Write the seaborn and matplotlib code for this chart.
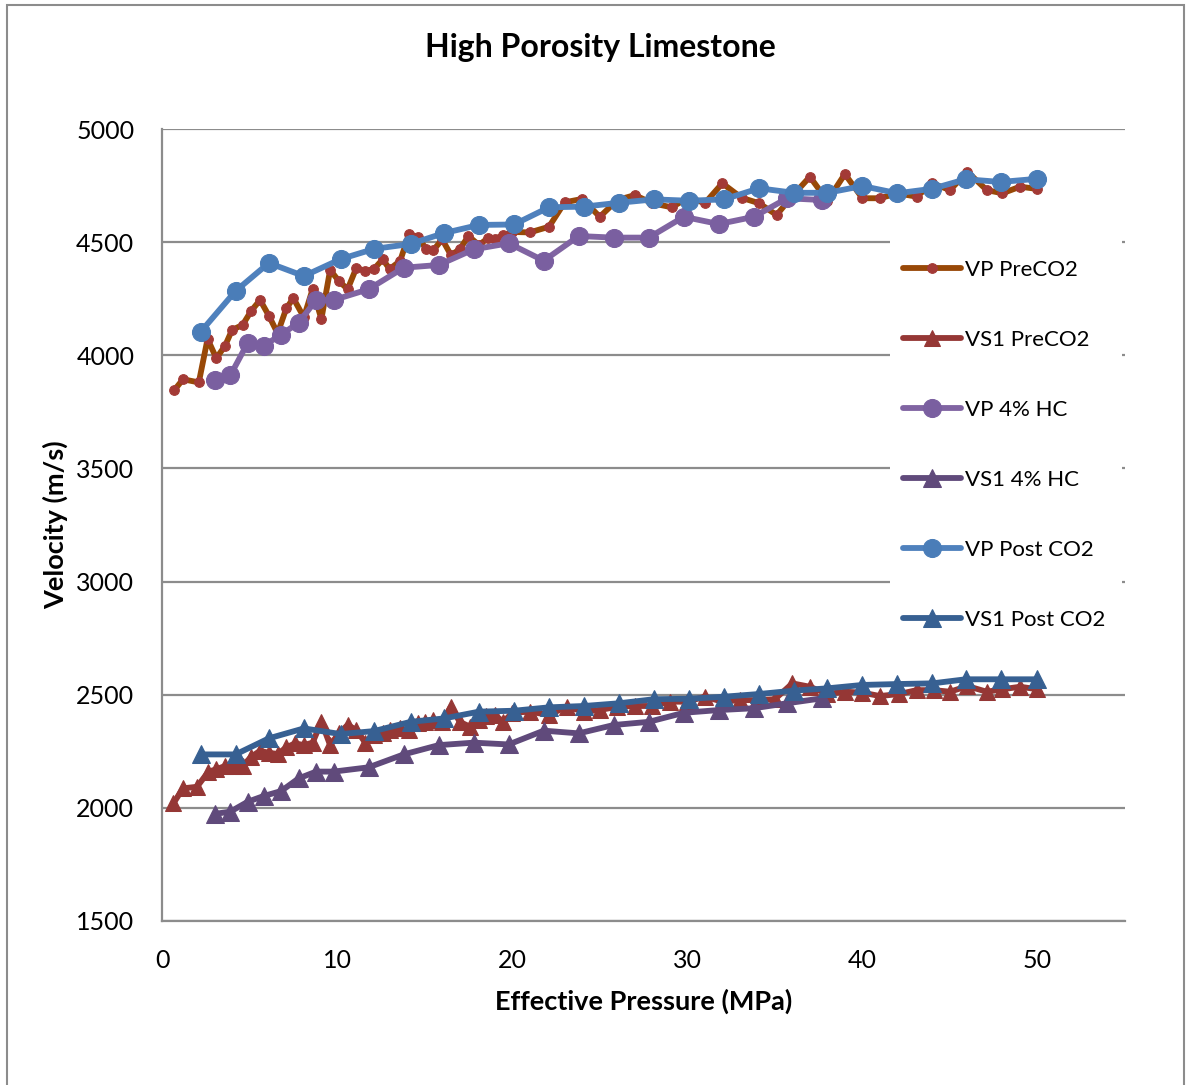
import matplotlib
matplotlib.use("Agg")
import matplotlib.pyplot as plt
from matplotlib.patches import Rectangle
import seaborn as sns

sns.set_theme(style="white")
plt.rcParams["font.family"] = ["Lato", "DejaVu Sans"]
plt.rcParams["text.color"] = "black"

# ---- data -------------------------------------------------------------
x_vp_pre = [0.7, 1.2, 2.1, 2.6, 3.1, 3.6, 4.0, 4.6, 5.1, 5.6, 6.1, 6.6, 7.1, 7.5, 8.1,
            8.6, 9.1, 9.6, 10.1, 10.6, 11.1, 11.6, 12.1, 12.6, 13.0, 13.6, 14.1, 14.6,
            15.1, 15.5, 16.0, 16.5, 17.0, 17.5, 18.1, 18.6, 19.0, 19.5, 20.0, 21.0,
            22.1, 23.0, 24.0, 25.0, 26.0, 27.0, 28.0, 29.1, 30.1, 31.0, 32.0, 33.1,
            34.1, 35.1, 36.0, 37.0, 38.0, 39.0, 40.0, 41.0, 42.0, 43.1, 44.0, 45.0,
            46.0, 47.1, 48.0, 49.0, 50.0]
vp_pre = [3846, 3894, 3880, 4072, 3987, 4042, 4112, 4134, 4197, 4244, 4175, 4097, 4208,
          4252, 4168, 4292, 4160, 4377, 4328, 4292, 4387, 4372, 4381, 4424, 4381, 4417,
          4535, 4524, 4468, 4465, 4512, 4443, 4468, 4527, 4487, 4517, 4514, 4531, 4545,
          4543, 4568, 4676, 4691, 4612, 4686, 4708, 4672, 4654, 4698, 4672, 4760, 4696,
          4672, 4620, 4704, 4789, 4683, 4801, 4694, 4694, 4716, 4701, 4760, 4730, 4811,
          4730, 4716, 4745, 4735]

x_vs_pre = [0.65, 1.2, 2.0, 2.65, 3.1, 3.6, 4.1, 4.6, 5.1, 5.6, 6.1, 6.6, 7.1, 7.6, 8.1,
            8.6, 9.1, 9.6, 10.1, 10.6, 11.1, 11.6, 12.1, 12.6, 13.0, 13.6, 14.1, 14.6,
            15.0, 15.5, 16.0, 16.5, 17.0, 17.6, 18.1, 18.5, 19.0, 19.5, 20.0, 21.0,
            22.1, 23.1, 24.1, 25.0, 26.0, 27.0, 28.0, 29.0, 30.0, 31.0, 32.0, 33.0,
            34.0, 35.0, 36.0, 37.0, 38.0, 39.0, 40.0, 41.0, 42.1, 43.1, 44.1, 45.0,
            46.0, 47.1, 48.0, 49.0, 50.0]
vs_pre = [2020, 2086, 2093, 2160, 2170, 2185, 2185, 2185, 2226, 2252, 2243, 2238, 2267,
          2285, 2277, 2288, 2380, 2277, 2329, 2366, 2344, 2288, 2322, 2329, 2344, 2351,
          2344, 2373, 2380, 2388, 2380, 2447, 2380, 2358, 2388, 2406, 2410, 2380, 2420,
          2425, 2410, 2447, 2425, 2432, 2447, 2450, 2450, 2469, 2469, 2491, 2469, 2476,
          2476, 2480, 2550, 2535, 2503, 2513, 2509, 2494, 2503, 2520, 2520, 2513, 2538,
          2513, 2524, 2535, 2524]

x_hc = [3.0, 3.9, 4.9, 5.8, 6.8, 7.8, 8.8, 9.8, 11.8, 13.8, 15.8, 17.8, 19.8, 21.8,
        23.8, 25.8, 27.8, 29.8, 31.8, 33.8, 35.7, 37.7]
vp_hc = [3891, 3911, 4056, 4042, 4091, 4144, 4244, 4244, 4292, 4387, 4399, 4468, 4495,
         4418, 4527, 4520, 4520, 4612, 4580, 4612, 4694, 4686]
vs_hc = [1973, 1983, 2027, 2052, 2074, 2130, 2160, 2160, 2179, 2236, 2277, 2288, 2280,
         2341, 2329, 2366, 2380, 2420, 2432, 2440, 2462, 2484]

x_post = [2.2, 4.2, 6.1, 8.1, 10.2, 12.1, 14.2, 16.1, 18.1, 20.1, 22.1, 24.1, 26.1,
          28.1, 30.1, 32.1, 34.1, 36.1, 38.0, 40.0, 42.0, 44.0, 45.9, 47.9, 50.0]
vp_post = [4103, 4284, 4408, 4350, 4425, 4470, 4492, 4540, 4576, 4578, 4654, 4657, 4674,
           4689, 4683, 4689, 4738, 4718, 4718, 4748, 4716, 4736, 4778, 4766, 4780]
vs_post = [2236, 2236, 2307, 2351, 2326, 2339, 2380, 2395, 2425, 2429, 2444, 2450, 2462,
           2480, 2482, 2491, 2503, 2518, 2528, 2543, 2547, 2550, 2568, 2568, 2568]

fig = plt.figure(figsize=(11.88, 10.85), dpi=100)
ax = fig.add_axes([0.1364, 0.1512, 0.8106, 0.7299])

series = [
    (x_vp_pre, vp_pre, "VP PreCO2", "#984807", "o", 7, "#A33A36"),
    (x_vs_pre, vs_pre, "VS1 PreCO2", "#953735", "^", 12, "#953735"),
    (x_hc, vp_hc, "VP 4% HC", "#8064A2", "o", 13, "#7A5FA0"),
    (x_hc, vs_hc, "VS1 4% HC", "#604A7B", "^", 13, "#604A7B"),
    (x_post, vp_post, "VP Post CO2", "#4F81BD", "o", 13, "#4A7DB8"),
    (x_post, vs_post, "VS1 Post CO2", "#376092", "^", 13, "#376092"),
]
for xs, ys, lab, col, mk, ms, mcol in series:
    sns.lineplot(x=xs, y=ys, ax=ax, color=col, linewidth=4.2, marker=mk,
                 markersize=ms, markerfacecolor=mcol, markeredgecolor=mcol,
                 label=lab, sort=False)

ax.set_xlim(0, 55)
ax.set_ylim(1500, 5000)
ax.set_xticks(range(0, 51, 10))
ax.set_yticks(range(1500, 5001, 500))
ax.set_axisbelow(True)
ax.yaxis.grid(True, color="#8C8C8C", linewidth=1.6)
ax.xaxis.grid(False)
for s in ["top", "right"]:
    ax.spines[s].set_visible(False)
for s in ["left", "bottom"]:
    ax.spines[s].set_color("#8C8C8C")
    ax.spines[s].set_linewidth(1.6)
ax.tick_params(axis="both", length=0, labelsize=18, pad=20, colors="black")

ax.set_xlabel("Effective Pressure (MPa)", fontsize=19.5, fontweight="bold",
              labelpad=12, color="black")
ax.set_ylabel("Velocity (m/s)", fontsize=19.5, fontweight="bold", labelpad=6,
              color="black")

fig.text(600 / 1188, 1 - 48 / 1085, "High Porosity Limestone", ha="center", va="center",
         fontsize=23, fontweight="bold", color="black")

# white legend area hiding the gridlines (sits under the data lines)
ax.add_patch(Rectangle((0.7555, 0.355), 0.2415, 0.509, transform=ax.transAxes,
                       facecolor="white", edgecolor="none", zorder=1.5))
leg = ax.legend(loc="upper left", bbox_to_anchor=(0.756, 0.852), frameon=False,
                fontsize=16, labelspacing=2.25, handlelength=2.6, handletextpad=0.15,
                borderpad=0.6, borderaxespad=0)
for t in leg.get_texts():
    t.set_color("black")

fig.patches.append(Rectangle((7 / 1188, -0.01), 1177 / 1188, 1.01 - 5 / 1085,
                             transform=fig.transFigure, fill=False,
                             edgecolor="#8C8C8C", linewidth=1.5))

fig.savefig("out.png", dpi=100)
